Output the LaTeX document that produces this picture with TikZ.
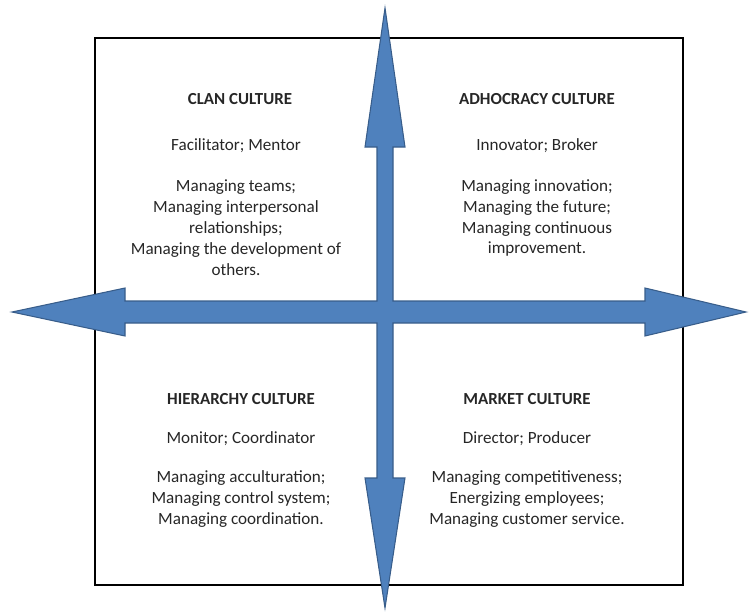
\documentclass[tikz,border=0pt]{standalone}
\usepackage{fontspec}
\setmainfont{Carlito}
\usetikzlibrary{arrows.meta,positioning}
\definecolor{crossblue}{RGB}{79,129,189}
\definecolor{crossedge}{RGB}{56,93,138}
\tikzset {
  >=Stealth,
  every node/.style={font=\fontsize{14.6}{17.9}\selectfont,text=black!85,align=center},
  heading/.style={font=\fontsize{14.4}{17}\selectfont\bfseries},
}

\begin{document}
\begin{tikzpicture}[x=0.03cm,y=-0.03cm]
      \useasboundingbox (0,0) rectangle (749,614);
      \draw[line width=1.6pt] (95,38) rectangle (683,585);
      % the two crossing double arrows
      \filldraw[fill=crossblue,draw=crossedge,line width=0.9pt,line join=miter]
        (385,8) -- (405,147) -- (393,147) -- (393,301) -- (645,301) -- (645,288)
        -- (746,312) -- (645,336) -- (645,323) -- (393,323) -- (393,478)
        -- (405,478) -- (385,608) -- (365,478) -- (377,478) -- (377,323)
        -- (125,323) -- (125,336) -- (12,312) -- (125,288) -- (125,301)
        -- (377,301) -- (377,147) -- (365,147) -- cycle;
      % clan
      \node[heading] (clan) at (240,99) {CLAN CULTURE};
      \node (clanrole) at (236,146) {Facilitator; Mentor};
      \node (clantasks) at (236,228) {Managing teams;\\Managing interpersonal\\relationships;\\Managing the development of\\others.};
      % adhocracy
      \node[heading] (adhoc) at (537,99) {ADHOCRACY CULTURE};
      \node (adhocrole) at (537,146) {Innovator; Broker};
      \node (adhoctasks) at (537,218) {Managing innovation;\\Managing the future;\\Managing continuous\\improvement.};
      % hierarchy
      \node[heading] (hier) at (241,399) {HIERARCHY CULTURE};
      \node (hierrole) at (241,439) {Monitor; Coordinator};
      \node (hiertasks) at (241,499) {Managing acculturation;\\Managing control system;\\Managing coordination.};
      % market
      \node[heading] (market) at (527,399) {MARKET CULTURE};
      \node (marketrole) at (527,439) {Director; Producer};
      \node (markettasks) at (527,499) {Managing competitiveness;\\Energizing employees;\\Managing customer service.};
    \end{tikzpicture}
\end{document}
